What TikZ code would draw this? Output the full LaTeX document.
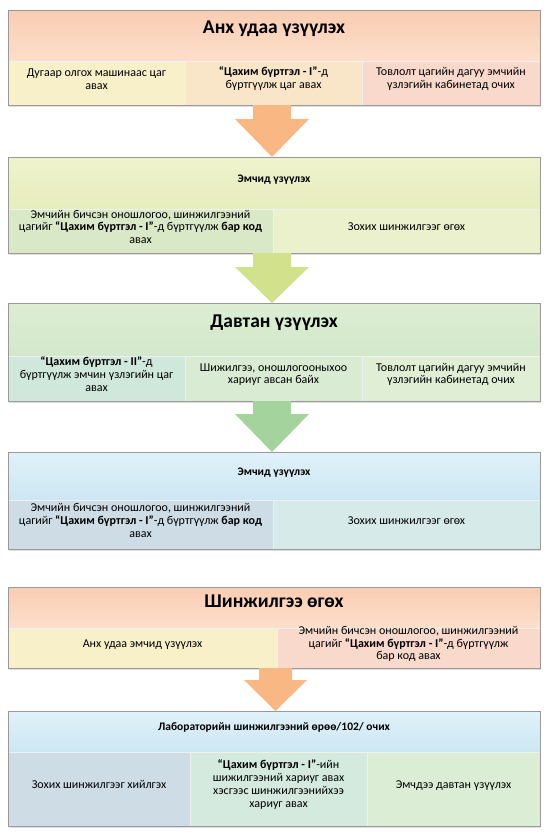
\documentclass[tikz,border=0pt]{standalone}
\usepackage{fontspec}
\setmainfont{Carlito}
\usepackage{tikz}
\usetikzlibrary{calc,fit,backgrounds}
\definecolor{pchtop}{HTML}{F9CDB1}
\definecolor{pchbot}{HTML}{FCDFCC}
\definecolor{limtop}{HTML}{EEF3CC}
\definecolor{limbot}{HTML}{E6EDBE}
\definecolor{grntop}{HTML}{DCEDD3}
\definecolor{grnbot}{HTML}{D3E8CA}
\definecolor{blutop}{HTML}{E0F1F9}
\definecolor{blubot}{HTML}{CCE7F3}
\definecolor{cream}{HTML}{F8F0C9}
\definecolor{sand}{HTML}{F9E6C9}
\definecolor{rose}{HTML}{F9D9CC}
\definecolor{sage}{HTML}{D9E8C7}
\definecolor{lime}{HTML}{ECF1CD}
\definecolor{mint}{HTML}{D0E7DC}
\definecolor{moss}{HTML}{DAEBD4}
\definecolor{fern}{HTML}{E1EED6}
\definecolor{slate}{HTML}{CDDCE5}
\definecolor{aqua}{HTML}{D6EAE9}
\definecolor{jade}{HTML}{D4EADF}
\definecolor{leaf}{HTML}{DCEDD6}
\definecolor{orangearr}{HTML}{F9B784}
\definecolor{limearr}{HTML}{D2E28C}
\definecolor{greenarr}{HTML}{A5D39D}
\tikzset{
  hdbox/.style={inner sep=0pt, outer sep=0pt, align=center, font=\fontsize{19.5}{22}\selectfont\bfseries},
  hdsmall/.style={hdbox, font=\fontsize{11.5}{13}\selectfont\bfseries},
  cellbox/.style={draw=black!6, line width=0.4pt, inner sep=0pt, outer sep=0pt, align=center, font=\fontsize{12}{12.8}\selectfont},
  boxline/.style={draw=black!40, line width=0.6pt},
  boxshadow/.style={fill=black!12},
  arrowfill/.style={fill=#1}
}

\begin{document}
\begin{tikzpicture}[x=1pt,y=-1pt]
  \useasboundingbox (0,0) rectangle (550,838);

  % Анх удаа үзүүлэх
  \node[hdbox, top color=pchtop, bottom color=pchbot, fit={(8,10) (540,61)}] (hd1) {Анх удаа үзүүлэх};
  \node[cellbox, fill=cream, fit={(8,61) (185,105)}] (c11) {Дугаар олгох машинаас цаг\\авах};
  \node[cellbox, fill=sand, fit={(185,61) (362,105)}] (c12) {\textbf{“Цахим бүртгэл - I”}-д\\бүртгүүлж цаг авах};
  \node[cellbox, fill=rose, fit={(362,61) (540,105)}] (c13) {Товлолт цагийн дагуу эмчийн\\үзлэгийн кабинетад очих};

  % Эмчид үзүүлэх
  \node[hdsmall, top color=limtop, bottom color=limbot, fit={(8,157) (540,209)}] (hd2) {Эмчид үзүүлэх};
  \node[cellbox, fill=sage, fit={(8,209) (273,253)}] (c21) {Эмчийн бичсэн оношлогоо, шинжилгээний\\цагийг \textbf{“Цахим бүртгэл - I”}-д бүртгүүлж \textbf{бар код}\\авах};
  \node[cellbox, fill=lime, fit={(273,209) (540,253)}] (c22) {Зохих шинжилгээг өгөх};

  % Давтан үзүүлэх
  \node[hdbox, top color=grntop, bottom color=grnbot, fit={(8,303) (540,356)}] (hd3) {Давтан үзүүлэх};
  \node[cellbox, fill=mint, fit={(8,356) (185,401)}] (c31) {\textbf{“Цахим бүртгэл - II”}-д\\бүртгүүлж эмчин үзлэгийн цаг\\авах};
  \node[cellbox, fill=moss, fit={(185,356) (362,401)}] (c32) {Шижилгээ, оношлогооныхоо\\хариуг авсан байх};
  \node[cellbox, fill=fern, fit={(362,356) (540,401)}] (c33) {Товлолт цагийн дагуу эмчийн\\үзлэгийн кабинетад очих};

  % Эмчид үзүүлэх (2)
  \node[hdsmall, top color=blutop, bottom color=blubot, fit={(8,452) (540,500)}] (hd4) {Эмчид үзүүлэх};
  \node[cellbox, fill=slate, fit={(8,500) (273,549)}] (c41) {Эмчийн бичсэн оношлогоо, шинжилгээний\\цагийг \textbf{“Цахим бүртгэл - I”}-д бүртгүүлж \textbf{бар код}\\авах};
  \node[cellbox, fill=aqua, fit={(273,500) (540,549)}] (c42) {Зохих шинжилгээг өгөх};

  % Шинжилгээ өгөх
  \node[hdbox, top color=pchtop, bottom color=pchbot, fit={(8,587) (540,628)}] (hd5) {Шинжилгээ өгөх};
  \node[cellbox, fill=cream, fit={(8,628) (277,668)}] (c51) {Анх удаа эмчид үзүүлэх};
  \node[cellbox, fill=rose, fit={(277,628) (540,668)}] (c52) {Эмчийн бичсэн оношлогоо, шинжилгээний\\цагийг \textbf{“Цахим бүртгэл - I”}-д бүртгүүлж\\бар код авах};

  % Лаборатори
  \node[hdsmall, top color=blutop, bottom color=blubot, fit={(8,711) (540,752)}] (hd6) {Лабораторийн шинжилгээний өрөө/102/ очих};
  \node[cellbox, fill=slate, fit={(8,752) (190,826)}] (c61) {Зохих шинжилгээг хийлгэх};
  \node[cellbox, fill=jade, fit={(190,752) (367,826)}] (c62) {\textbf{“Цахим бүртгэл - I”}-ийн\\шижилгээний хариуг авах\\хэсгээс шинжилгээнийхээ\\хариуг авах};
  \node[cellbox, fill=leaf, fit={(367,752) (540,826)}] (c63) {Эмчдээ давтан үзүүлэх};

  % outlines and shadows
  \foreach \hd/\cl in {hd1/c13, hd2/c22, hd3/c33, hd4/c42, hd5/c52, hd6/c63} {
    \draw[boxline] (\hd.north west) rectangle (\cl.south east);
    \begin{scope}[on background layer]
      \fill[boxshadow] ($(\hd.north west)+(1,1.5)$) rectangle ($(\cl.south east)+(1,1.5)$);
    \end{scope}
  }

  % arrows
  \foreach \hd/\cl/\nx/\co/\dx/\sw/\hw/\hl in {hd1/c11/hd2/orangearr/-2/19/37/38, hd2/c21/hd3/limearr/-2/19/37/36, hd3/c31/hd4/greenarr/-2/19/37/38, hd5/c51/hd6/orangearr/1.5/16.5/31.5/31} {
    \coordinate (s) at ($(\hd.center |- \cl.south)+(\dx,0)$);
    \coordinate (t) at (s |- \nx.north);
    \fill[arrowfill=\co] ($(s)+(-\sw,0)$) -- ($(s)+(\sw,0)$) -- ($(t)+(\sw,-\hl)$) -- ($(t)+(\hw,-\hl)$)
      -- (t) -- ($(t)+(-\hw,-\hl)$) -- ($(t)+(-\sw,-\hl)$) -- cycle;
  }
\end{tikzpicture}
\end{document}
